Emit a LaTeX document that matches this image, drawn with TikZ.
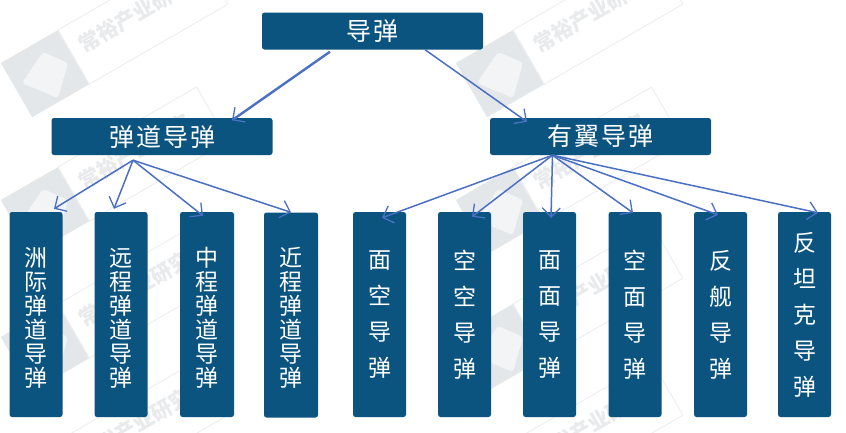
\documentclass[tikz,border=0pt]{standalone}
\usepackage{fontspec}
\newfontfamily\cjk{Noto Sans CJK SC}
\newfontfamily\cjkwide[LetterSpace=8]{Noto Sans CJK SC}
\usetikzlibrary{arrows.meta}
\definecolor{boxblue}{HTML}{0B5480}
\definecolor{arrowblue}{HTML}{4A70C4}
\definecolor{wmgray}{HTML}{E4E7EA}
\definecolor{wmline}{HTML}{EDEFF1}
\definecolor{wmlight}{HTML}{F3F4F6}
\definecolor{wmtext}{HTML}{E8EAEC}
\newcommand{\topgap}{\rule{0pt}{25pt}}
\tikzset{
  boxbase/.style={fill=boxblue,rounded corners=2.5pt,inner sep=0pt,text=white,align=center,font=\cjk\fontsize{24}{25}\selectfont},
  widebox/.style={boxbase,minimum width=221pt,minimum height=37pt,font=\cjkwide\fontsize{25}{26}\selectfont},
  tallsix/.style={boxbase,minimum width=53pt,minimum height=205pt,font=\cjk\fontsize{23}{24}\selectfont},
  tallfive/.style={boxbase,minimum width=53pt,minimum height=205pt,font=\cjk\fontsize{23}{36}\selectfont},
  tallfour/.style={boxbase,minimum width=53pt,minimum height=205pt,font=\cjk\fontsize{23}{36}\selectfont},
  link/.style={draw=arrowblue,line width=1.5pt,-{Straight Barb[length=9pt,width=18pt,line width=1.3pt]}},
  wmtitle/.style={text=wmtext,font=\cjk\bfseries\fontsize{21}{23}\selectfont,inner sep=0pt,transform shape}
}
\begin{document}
\begin{tikzpicture}[x=1pt,y=-1pt]
\useasboundingbox (0,0) rectangle (846,432);
\clip (0,0) rectangle (846,432);
\fill[white] (0,0) rectangle (846,432);
% watermarks
\foreach \c in {0,1}{
  \foreach \r in {0,1,2,3}{
    \begin{scope}[shift={({58+455*\c},{30+137*\r})},rotate=30]
      \fill[wmgray] (-66,0) rectangle (0,62.6);
      \fill[wmlight,rounded corners=3pt] (-57.7,27.9) -- (-24,11.5) -- (-7.8,33.6) -- (-34,58.9) -- cycle;
      \draw[wmline,line width=1pt] (0,0) rectangle (160,62.6);
      \node[wmtitle] at (74,25) {常裕产业研究};
    \end{scope}
  }
}
% nodes
\node[widebox] (top) at (372.5,31) {导弹};
\node[widebox] (bal) at (162,136.5) {弹道导弹};
\node[widebox] (win) at (600.5,136.5) {有翼导弹};
\node[tallsix] (a1) at (36,314.5) {\topgap 洲\\际\\弹\\道\\导\\弹};
\node[tallsix] (a2) at (121,314.5) {\topgap 远\\程\\弹\\道\\导\\弹};
\node[tallsix,minimum width=54pt] (a3) at (207,314.5) {\topgap 中\\程\\弹\\道\\导\\弹};
\node[tallsix,minimum width=54pt] (a4) at (291,315) {\topgap 近\\程\\弹\\道\\导\\弹};
\node[tallfour] (b1) at (379.5,314.5) {面\\空\\导\\弹};
\node[tallfour] (b2) at (464.5,314.5) {空\\空\\导\\弹};
\node[tallfour] (b3) at (549.5,314.5) {面\\面\\导\\弹};
\node[tallfour] (b4) at (635,314.5) {空\\面\\导\\弹};
\node[tallfour] (b5) at (720.5,314.5) {反\\舰\\导\\弹};
\node[tallfive] (b6) at (804.5,314.5) {反\\坦\\克\\导\\弹};
% connectors
\draw[link,line width=2.4pt] ([xshift=-42.5pt,yshift=-2pt]top.south) -- ([xshift=70pt,yshift=-2.5pt]bal.north);
\draw[link] ([xshift=52.5pt]top.south) -- ([xshift=-73.5pt,yshift=-4pt]win.north);
\coordinate (bo) at ([xshift=-29pt,yshift=-5pt]bal.south);
\draw[link] (bo) -- ([xshift=18pt,yshift=3pt]a1.north);
\draw[link] (bo) -- ([xshift=-7pt,yshift=3pt]a2.north);
\draw[link] (bo) -- ([xshift=-4pt,yshift=-4pt]a3.north);
\draw[link] (bo) -- ([xshift=0pt,yshift=0pt]a4.north);
\coordinate (wo) at ([xshift=-48pt,yshift=0pt]win.south);
\draw[link] (wo) -- ([xshift=2.5pt,yshift=-6pt]b1.north);
\draw[link] (wo) -- ([xshift=7.5pt,yshift=-5pt]b2.north);
\draw[link] (wo) -- ([xshift=1.5pt,yshift=-6pt]b3.north);
\draw[link] (wo) -- ([xshift=-2pt,yshift=-1pt]b4.north);
\draw[link] (wo) -- ([xshift=-2.5pt,yshift=-3pt]b5.north);
\draw[link] (wo) -- ([xshift=13.5pt,yshift=-1pt]b6.north);
\end{tikzpicture}
\end{document}
